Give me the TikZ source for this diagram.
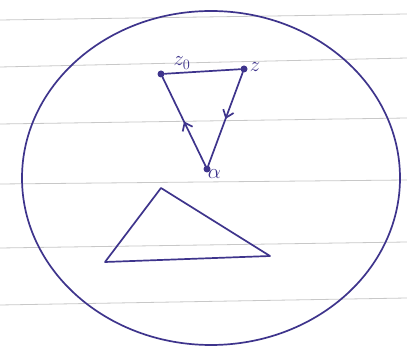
\documentclass[tikz,border=0pt]{standalone}
\usetikzlibrary{positioning,arrows.meta,decorations.markings}

\definecolor{ink}{RGB}{62,52,140}
\definecolor{paper}{RGB}{200,200,200}

\begin{document}
\begin{tikzpicture}[x=1pt, y=-1pt, >=Latex,
  ink/.style={draw=ink, line width=1.7pt, line join=round, line cap=round},
  dot/.style={circle, fill=ink, inner sep=0pt, minimum size=7pt},
  lbl/.style={text=ink, font=\huge, inner sep=1pt},
  midarrow/.style={postaction={decorate}, decoration={markings,
      mark=at position 0.5 with {\arrow{Straight Barb[length=7pt, width=11pt]}}}}]
  \useasboundingbox (0,0) rectangle (407,352);
  \fill[white] (0,0) rectangle (407,352);

  % ruled paper
  \foreach \ya/\yb in {20/14, 67/58, 124/118, 184/180, 248/242, 305/298}
    \draw[paper, line width=0.8pt] (0,\ya) -- (407,\yb);

  % the domain
  \draw[ink] (211,178) ellipse [x radius=189, y radius=167];

  % points of the contour
  \node[dot] (z0) at (161,74) {};
  \node[dot] (z) at (244,69) {};
  \node[dot] (a) at (207,169) {};
  \node[lbl, above=0pt of z0, xshift=21pt] (z0l) {$z_0$};
  \node[lbl, above right=-6pt and 2pt of z] (zl) {$z$};
  \node[lbl, below right=-3pt and -3pt of a] (al) {$\alpha$};

  \draw[ink] (z0) -- (z);
  \draw[ink, midarrow] (z) -- (a);
  \draw[ink, midarrow] (a) -- (z0);

  % second triangle
  \coordinate (t1) at (161,188);
  \coordinate (t2) at (105,262);
  \coordinate (t3) at (270,256);
  \draw[ink] (t1) -- (t2) -- (t3) -- cycle;
\end{tikzpicture}
\end{document}
